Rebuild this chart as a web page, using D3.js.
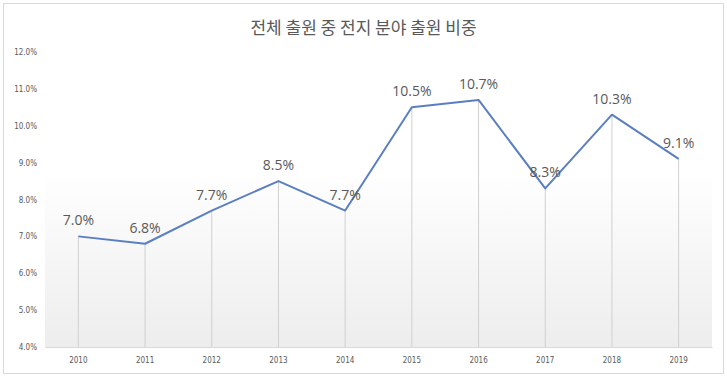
<!DOCTYPE html>
<html>
<head>
<meta charset="utf-8">
<script src="https://cdn.jsdelivr.net/npm/d3@7"></script>
<style>
  body { margin: 0; background: #fff; }
  svg { display: block; font-family: "Noto Sans CJK KR", "Noto Sans", sans-serif; }
</style>
</head>
<body>
<div id="chart"></div>
<script>
// Data.
const years = ['2010', '2011', '2012', '2013', '2014', '2015', '2016', '2017', '2018', '2019'];
const shares = [7.0, 6.8, 7.7, 8.5, 7.7, 10.5, 10.7, 8.3, 10.3, 9.1];
const yTicks = [4, 5, 6, 7, 8, 9, 10, 11, 12];
const title = '전체 출원 중 전지 분야 출원 비중';

const width = 727, height = 377;
const margin = {top: 52, right: 15, bottom: 30, left: 45};
const innerW = width - margin.left - margin.right;
const innerH = height - margin.top - margin.bottom;

const svg = d3.select('#chart')
    .append('svg')
        .attr('width', width)
        .attr('height', height);

// Gradient for the plot area.
const defs = svg.append('defs');
const grad = defs.append('linearGradient')
    .attr('id', 'bg')
    .attr('x1', 0).attr('y1', 0).attr('x2', 0).attr('y2', 1);
grad.append('stop').attr('offset', '0%').attr('stop-color', '#ffffff');
grad.append('stop').attr('offset', '40%').attr('stop-color', '#ffffff');
grad.append('stop').attr('offset', '100%').attr('stop-color', '#ededed');

// Chart frame.
svg.append('rect')
    .attr('x', 3.5).attr('y', 3.5)
    .attr('width', width - 7).attr('height', height - 7)
    .attr('fill', '#fff')
    .attr('stroke', '#d9d9d9');

svg.append('text')
    .attr('x', width / 2)
    .attr('y', 34)
    .attr('text-anchor', 'middle')
    .attr('fill', '#595959')
    .style('font-size', '17px')
    .text(title);

const g = svg.append('g')
    .attr('transform', `translate(${margin.left},${margin.top})`);

const x = d3.scaleBand()
    .domain(years)
    .range([0, innerW]);
const y = d3.scaleLinear()
    .domain([4, 12])
    .range([innerH, 0]);

g.append('rect')
    .attr('width', innerW)
    .attr('height', innerH)
    .attr('fill', 'url(#bg)');

// Y axis labels (no line).
const yAxis = g.append('g')
    .call(d3.axisLeft(y).tickValues(yTicks).tickSize(0).tickPadding(8)
        .tickFormat(d => d.toFixed(1) + '%'));
yAxis.select('.domain').remove();
yAxis.selectAll('text')
    .attr('fill', '#595959')
    .style('font-size', '8px')
    .style('font-family', '"Liberation Sans Narrow", "DejaVu Sans Condensed", sans-serif');

// X axis.
const xAxis = g.append('g')
    .attr('transform', `translate(0,${innerH})`)
    .call(d3.axisBottom(x).tickSize(0).tickPadding(10));
xAxis.select('.domain').attr('stroke', '#d9d9d9');
xAxis.selectAll('text')
    .attr('fill', '#595959')
    .style('font-size', '8px')
    .style('font-family', '"Liberation Sans Narrow", "DejaVu Sans Condensed", sans-serif');

const cx = d => x(d) + x.bandwidth() / 2;

// Drop lines.
g.selectAll('.drop')
    .data(years)
    .enter()
    .append('line')
        .attr('x1', d => cx(d)).attr('x2', d => cx(d))
        .attr('y1', (d, i) => y(shares[i]))
        .attr('y2', innerH)
        .attr('stroke', '#d0d0d0')
        .attr('stroke-width', 1);

// Line.
const line = d3.line()
    .x((d, i) => cx(years[i]))
    .y(d => y(d));
g.append('path')
    .datum(shares)
    .attr('d', line)
    .attr('fill', 'none')
    .attr('stroke', '#5a7fc0')
    .attr('stroke-width', 2)
    .attr('stroke-linejoin', 'round');

// Data labels.
g.selectAll('.lbl')
    .data(shares)
    .enter()
    .append('text')
        .attr('x', (d, i) => cx(years[i]))
        .attr('y', d => y(d) - 11)
        .attr('text-anchor', 'middle')
        .attr('fill', '#595959')
        .style('font-size', '14px')
        .style('font-family', '"Open Sans", "Noto Sans", sans-serif')
        .text(d => d.toFixed(1) + '%');
</script>
</body>
</html>
